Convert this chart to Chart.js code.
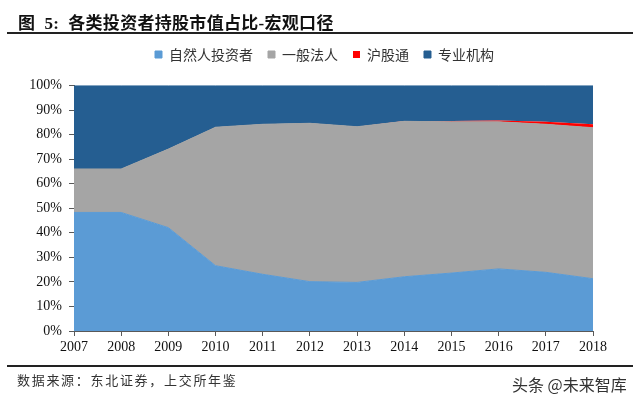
<!DOCTYPE html>
<html>
<head>
<meta charset="utf-8">
<script src="https://cdn.jsdelivr.net/npm/chart.js@4.4.1/dist/chart.umd.min.js"></script>
<style>
  html, body { margin: 0; padding: 0; background: #fff; }
  #wrap { position: relative; width: 640px; height: 403px; overflow: hidden; }
  #c { position: absolute; left: 0; top: 0; }
  .title { position: absolute; left: 18px; top: 9px; font: bold 17px "Liberation Serif", "Noto Sans CJK SC", serif; color: #111; white-space: nowrap; letter-spacing: 0.3px; }
  .rule { position: absolute; left: 7px; width: 626px; height: 2px; background: #222; }
  .src { position: absolute; left: 17px; top: 370px; font: 13px "Noto Sans CJK SC", sans-serif; color: #333; letter-spacing: 1.7px; white-space: nowrap; }
  .wm { position: absolute; left: 512px; top: 372px; font: 16px "Noto Sans CJK SC", sans-serif; color: #333; white-space: nowrap; }
</style>
</head>
<body>
<div id="wrap">
  <canvas id="c" width="640" height="403"></canvas>
  <div class="title">图&nbsp;&nbsp;5:&nbsp;&nbsp;各类投资者持股市值占比-宏观口径</div>
  <div class="rule" style="top:32px"></div>
  <div class="rule" style="top:365px"></div>
  <div class="src">数据来源：东北证券，上交所年鉴</div>
  <div class="wm">头条 @未来智库</div>
</div>
<script>
const years = ['2007','2008','2009','2010','2011','2012','2013','2014','2015','2016','2017','2018'];
const seriesNames = ['自然人投资者','一般法人','沪股通','专业机构'];
const individuals = [48.3, 48.3, 42.1, 26.6, 23.1, 20.1, 19.8, 22.1, 23.6, 25.3, 23.9, 21.3];
const corporates  = [17.7, 17.7, 32.0, 56.4, 61.1, 64.5, 63.4, 63.3, 61.6, 59.9, 60.3, 61.5];
const connect     = [0, 0, 0, 0, 0, 0, 0, 0.1, 0.3, 0.5, 1.0, 1.4];
const institutions= [34.0, 34.0, 25.9, 17.0, 15.8, 15.4, 16.8, 14.5, 14.5, 14.3, 14.8, 15.8];
const yTicks = [0,10,20,30,40,50,60,70,80,90,100];

const colors = ['#5B9BD5', '#A5A5A5', '#FF0000', '#255E91'];
const borderWidths = [1, 1, 0, 1];
const values = [individuals, corporates, connect, institutions];

const datasets = seriesNames.map((name, i) => ({
  label: name,
  data: values[i],
  backgroundColor: colors[i],
  borderColor: colors[i],
  borderWidth: borderWidths[i],
  pointRadius: 0,
  tension: 0,
  fill: i === 0 ? 'origin' : '-1'
}));

const shiftLegend = {
  id: 'shiftLegend',
  afterLayout(chart) {
    const l = chart.legend;
    if (!l) return;
    l.left += 28; l.right += 28;
    l.top -= 14; l.bottom -= 14;
  }
};

new Chart(document.getElementById('c'), {
  type: 'line',
  data: { labels: years, datasets },
  plugins: [shiftLegend],
  options: {
    responsive: false,
    animation: false,
    layout: { padding: { top: 46.5, left: 0, right: 47, bottom: 0 } },
    plugins: {
      tooltip: { enabled: false },
      legend: {
        position: 'top',
        labels: {
          boxWidth: 7, boxHeight: 7, padding: 15,
          color: '#333',
          font: { family: '"Noto Sans CJK SC", sans-serif', size: 14 }
        }
      }
    },
    scales: {
      x: {
        offset: false,
        grid: { drawOnChartArea: false, drawTicks: true, tickLength: 5, color: '#595959' },
        border: { display: true, color: '#595959' },
        ticks: { color: '#111', padding: 3, maxRotation: 0, autoSkip: false,
                 font: { family: '"Liberation Serif", serif', size: 14 } },
        afterFit: s => { s.height = 72; }
      },
      y: {
        stacked: true,
        min: 0, max: 100,
        afterBuildTicks: s => { s.ticks = yTicks.map(v => ({ value: v })); },
        grid: { drawOnChartArea: false, drawTicks: true, tickLength: 5, color: '#595959' },
        border: { display: true, color: '#595959' },
        ticks: { color: '#111', padding: 7, callback: v => v + '%',
                 font: { family: '"Liberation Serif", serif', size: 14 } },
        afterFit: s => { s.width = 74; }
      }
    }
  }
});
</script>
</body>
</html>
